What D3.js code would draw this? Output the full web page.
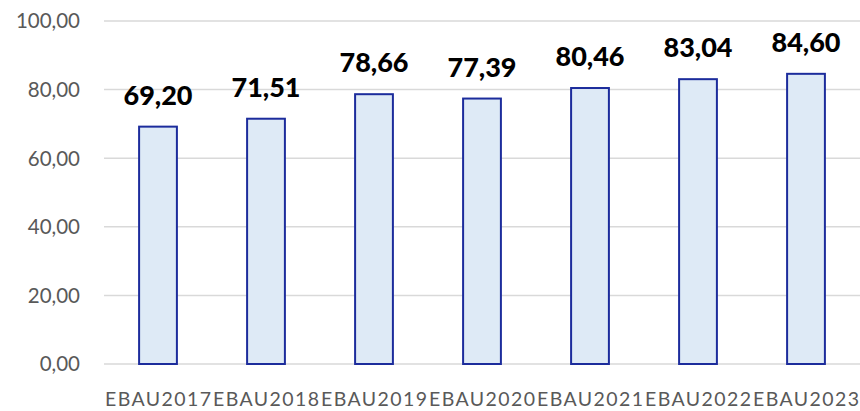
<!DOCTYPE html>
<html><head><meta charset="utf-8">
<script src="https://cdn.jsdelivr.net/npm/d3@7"></script>
<style>body{margin:0;background:#fff}svg{display:block}</style>
</head><body>
<svg id="c" width="860" height="411"></svg>
<script>
const categories = ["EBAU2017","EBAU2018","EBAU2019","EBAU2020","EBAU2021","EBAU2022","EBAU2023"];
const values = [69.20, 71.51, 78.66, 77.39, 80.46, 83.04, 84.60];
const yTicks = [0, 20, 40, 60, 80, 100];

(function () {
const svg = d3.select("#c");
const mLeft = 104, mRight = 860, mTop = 21, mBottom = 364;
const fmt = v => v.toFixed(2).replace(".", ",");
const x = d3.scaleBand().domain(categories).range([mLeft, mRight]).paddingInner(0.65).paddingOuter(0.325);
const y = d3.scaleLinear().domain([0, 100]).range([mBottom, mTop]);

svg.append("g").selectAll("line").data(yTicks).join("line")
  .attr("x1", mLeft).attr("x2", mRight)
  .attr("y1", d => y(d)).attr("y2", d => y(d))
  .attr("stroke", "#d9d9d9").attr("stroke-width", 1.5);

svg.append("g").selectAll("text").data(yTicks).join("text")
  .attr("x", 80).attr("y", d => y(d)).attr("dy", "0.36em")
  .attr("text-anchor", "end")
  .attr("font-family", "Lato, 'Open Sans', sans-serif").attr("font-size", 20.5)
  .attr("fill", "#595959").text(d => fmt(d));

svg.append("g").selectAll("rect").data(values).join("rect")
  .attr("x", (d, i) => x(categories[i]))
  .attr("width", x.bandwidth())
  .attr("y", d => y(d))
  .attr("height", d => mBottom - y(d))
  .attr("fill", "#deeaf6").attr("stroke", "#1c2c9c").attr("stroke-width", 2);

svg.append("g").selectAll("text").data(values).join("text")
  .attr("x", (d, i) => x(categories[i]) + x.bandwidth() / 2)
  .attr("y", d => y(d) - 22)
  .attr("text-anchor", "middle")
  .attr("font-family", "Lato, 'Open Sans', sans-serif").attr("font-weight", 900).attr("font-size", 27)
  .attr("fill", "#000").text(d => fmt(d));

const band = (mRight - mLeft) / categories.length;
svg.append("g").selectAll("text").data(categories).join("text")
  .attr("x", d => x(d) + x.bandwidth() / 2)
  .attr("y", 406)
  .attr("text-anchor", "middle")
  .attr("textLength", band - 2).attr("lengthAdjust", "spacing")
  .attr("font-family", "Lato, 'Open Sans', sans-serif").attr("font-size", 19.5)
  .attr("fill", "#595959").text(d => d);
})();
</script>
</body></html>
